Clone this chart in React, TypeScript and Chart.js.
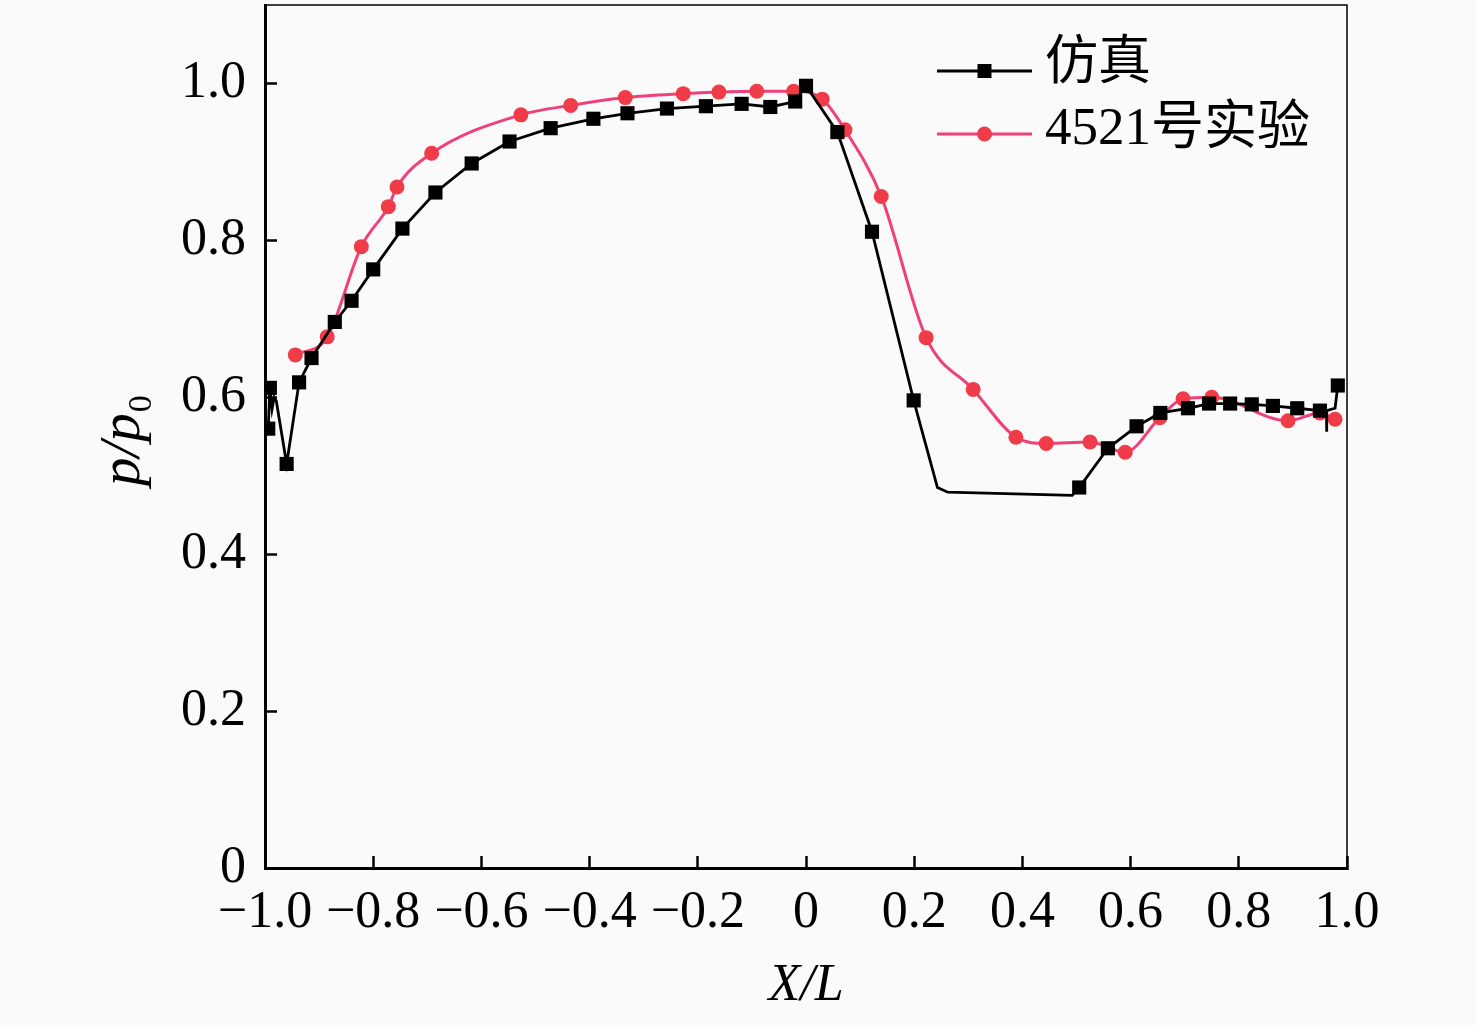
import React, { useEffect, useRef } from 'react';
import { Chart, registerables } from 'chart.js';

Chart.register(...registerables);

const simLabel = '仿真';
const expLabel = '4521号实验';

const simX = [
  -0.994, -0.991, -0.987, -0.983, -0.979, -0.96, -0.937, -0.914, -0.871, -0.84,
  -0.8, -0.746, -0.685, -0.618, -0.548, -0.472, -0.393, -0.33, -0.257, -0.185,
  -0.119, -0.066, -0.02, 0.0, 0.058, 0.122, 0.199, 0.243, 0.262, 0.492,
  0.505, 0.558, 0.611, 0.655, 0.706, 0.745, 0.784, 0.824, 0.863, 0.908,
  0.95, 0.962, 0.962, 0.963, 0.978, 0.983,
];
const simY = [
  0.56, 0.612, 0.585, 0.6, 0.595, 0.515, 0.619, 0.65, 0.696, 0.723,
  0.763, 0.815, 0.861, 0.898, 0.926, 0.943, 0.955, 0.962, 0.968, 0.971,
  0.974, 0.97, 0.977, 0.997, 0.938, 0.811, 0.596, 0.485, 0.479, 0.475,
  0.485, 0.535, 0.563, 0.58, 0.586, 0.592, 0.592, 0.591, 0.589, 0.586,
  0.583, 0.583, 0.556, 0.583, 0.586, 0.615,
];
const simMarked = [
  true, true, false, false, false, true, true, true, true, true,
  true, true, true, true, true, true, true, true, true, true,
  true, true, true, true, true, true, true, false, false, false,
  true, true, true, true, true, true, true, true, true, true,
  true, false, false, false, false, true,
];

const expX = [
  -0.944, -0.885, -0.822, -0.772, -0.756, -0.692, -0.527, -0.435, -0.334, -0.227,
  -0.161, -0.091, -0.023, 0.03, 0.072, 0.139, 0.222, 0.309, 0.388, 0.444,
  0.525, 0.59, 0.654, 0.697, 0.75, 0.891, 0.95, 0.978,
];
const expY = [
  0.654, 0.677, 0.792, 0.843, 0.868, 0.911, 0.96, 0.972, 0.982, 0.987,
  0.989, 0.99, 0.99, 0.98, 0.941, 0.856, 0.676, 0.61, 0.549, 0.541,
  0.543, 0.53, 0.574, 0.598, 0.6, 0.57, 0.58, 0.572,
];

const xTicks = [-1, -0.8, -0.6, -0.4, -0.2, 0, 0.2, 0.4, 0.6, 0.8, 1];
const xTickLabels = ['−1.0', '−0.8', '−0.6', '−0.4', '−0.2', '0', '0.2', '0.4', '0.6', '0.8', '1.0'];
const yTicks = [0, 0.2, 0.4, 0.6, 0.8, 1.0];
const yTickLabels = ['0', '0.2', '0.4', '0.6', '0.8', '1.0'];

const FONT = "'Liberation Serif', 'Times New Roman', 'Noto Sans CJK SC', serif";
const SIM_COLOR = '#000000';
const EXP_LINE = '#f0407a';
const EXP_POINT = '#f03c48';

const decorPlugin = {
  id: 'decor',
  beforeDraw(chart: any) {
    const { ctx, width, height } = chart;
    ctx.save();
    ctx.fillStyle = '#fafafa';
    ctx.fillRect(0, 0, width, height);
    ctx.restore();
  },
  afterDraw(chart: any) {
    const { ctx, chartArea: a } = chart;
    ctx.save();
    // top / right frame
    ctx.strokeStyle = '#000';
    ctx.lineWidth = 1.5;
    ctx.beginPath();
    ctx.moveTo(a.left, a.top);
    ctx.lineTo(a.right, a.top);
    ctx.lineTo(a.right, a.bottom);
    ctx.stroke();

    // y axis title p/p0
    ctx.fillStyle = '#000';
    ctx.translate(139, 486);
    ctx.rotate(-Math.PI / 2);
    ctx.font = `italic 57px ${FONT}`;
    ctx.textAlign = 'left';
    ctx.textBaseline = 'alphabetic';
    ctx.fillText('p/p', 0, 0);
    const w = ctx.measureText('p/p').width;
    ctx.font = `34px ${FONT}`;
    ctx.fillText('0', w + 1, 12);
    ctx.setTransform(1, 0, 0, 1, 0, 0);

    // legend
    const ds = chart.data.datasets;
    const x0 = a.right - 410;
    const x1 = a.right - 315;
    const xm = (x0 + x1) / 2;
    const rows = [a.top + 66, a.top + 129];
    const textRows = [a.top + 60, a.top + 125];
    ds.forEach((d: any, i: number) => {
      const y = rows[i];
      ctx.strokeStyle = d.borderColor;
      ctx.lineWidth = d.borderWidth;
      ctx.beginPath();
      ctx.moveTo(x0, y);
      ctx.lineTo(x1, y);
      ctx.stroke();
      ctx.fillStyle = d.pointBackgroundColor;
      if (i === 0) {
        ctx.fillRect(xm - 7, y - 7, 14, 14);
      } else {
        ctx.beginPath();
        ctx.arc(xm, y, 7.5, 0, Math.PI * 2);
        ctx.fill();
      }
      ctx.fillStyle = '#000';
      ctx.font = `53px ${FONT}`;
      ctx.textAlign = 'left';
      ctx.textBaseline = 'middle';
      ctx.fillText(d.label, a.right - 302, textRows[i]);
    });
    ctx.restore();
  },
};

export default function App() {
  const ref = useRef<HTMLCanvasElement | null>(null);

  useEffect(() => {
    document.body.style.margin = '0';
    const canvas = ref.current;
    if (!canvas) return;
    const simData = simX.map((x, i) => ({ x, y: simY[i] }));
    const expData = expX.map((x, i) => ({ x, y: expY[i] }));

    const chart = new Chart(canvas, {
      type: 'line',
      data: {
        datasets: [
          {
            label: simLabel,
            data: simData,
            borderColor: SIM_COLOR,
            borderWidth: 2.8,
            pointBackgroundColor: SIM_COLOR,
            pointBorderColor: SIM_COLOR,
            pointStyle: 'rect',
            pointRadius: (c: any) => (simMarked[c.dataIndex] ? 10 : 0),
            pointBorderWidth: 0,
            tension: 0,
            fill: false,
          },
          {
            label: expLabel,
            data: expData,
            borderColor: EXP_LINE,
            borderWidth: 3,
            pointBackgroundColor: EXP_POINT,
            pointBorderColor: EXP_POINT,
            pointStyle: 'circle',
            pointRadius: 7.5,
            pointBorderWidth: 0,
            cubicInterpolationMode: 'monotone',
            fill: false,
          },
        ],
      },
      options: {
        responsive: false,
        animation: false,
        events: [],
        layout: { autoPadding: false, padding: { left: 0, right: 129, top: 5, bottom: 0 } },
        plugins: {
          legend: { display: false },
          tooltip: { enabled: false },
        },
        scales: {
          x: {
            type: 'linear',
            min: -1,
            max: 1,
            afterBuildTicks: (s: any) => {
              s.ticks = xTicks.map((v) => ({ value: v }));
            },
            afterFit: (s: any) => {
              s.height = 157;
              s.paddingLeft = 0;
              s.paddingRight = 0;
              s.paddingTop = 0;
              s.paddingBottom = 0;
            },
            ticks: {
              autoSkip: false,
              maxRotation: 0,
              padding: 26,
              color: '#000',
              font: { family: FONT, size: 52 },
              callback: (_v: any, i: number) => xTickLabels[i],
            },
            grid: {
              drawOnChartArea: false,
              drawTicks: true,
              tickLength: -12,
              tickWidth: 2.5,
              color: '#000',
            },
            border: { display: true, color: '#000', width: 3 },
            title: {
              display: true,
              text: 'X/L',
              color: '#000',
              font: { family: FONT, size: 52, style: 'italic' },
              padding: { top: 0, bottom: 7 },
            },
          },
          y: {
            type: 'linear',
            min: 0,
            max: 1.1,
            afterBuildTicks: (s: any) => {
              s.ticks = yTicks.map((v) => ({ value: v }));
            },
            afterFit: (s: any) => {
              s.width = 265;
              s.paddingLeft = 0;
              s.paddingRight = 0;
              s.paddingTop = 0;
              s.paddingBottom = 0;
            },
            ticks: {
              padding: 31,
              color: '#000',
              font: { family: FONT, size: 52 },
              callback: (_v: any, i: number) => yTickLabels[i],
            },
            grid: {
              drawOnChartArea: false,
              drawTicks: true,
              tickLength: -12,
              tickWidth: 2.5,
              color: '#000',
            },
            border: { display: true, color: '#000', width: 3 },
            title: { display: false },
          },
        },
      },
      plugins: [decorPlugin],
    } as any);

    return () => chart.destroy();
  }, []);

  return (
    <div style={{ width: 1476, height: 1025 }}>
      <canvas ref={ref} width={1476} height={1025} style={{ display: 'block' }} />
    </div>
  );
}
